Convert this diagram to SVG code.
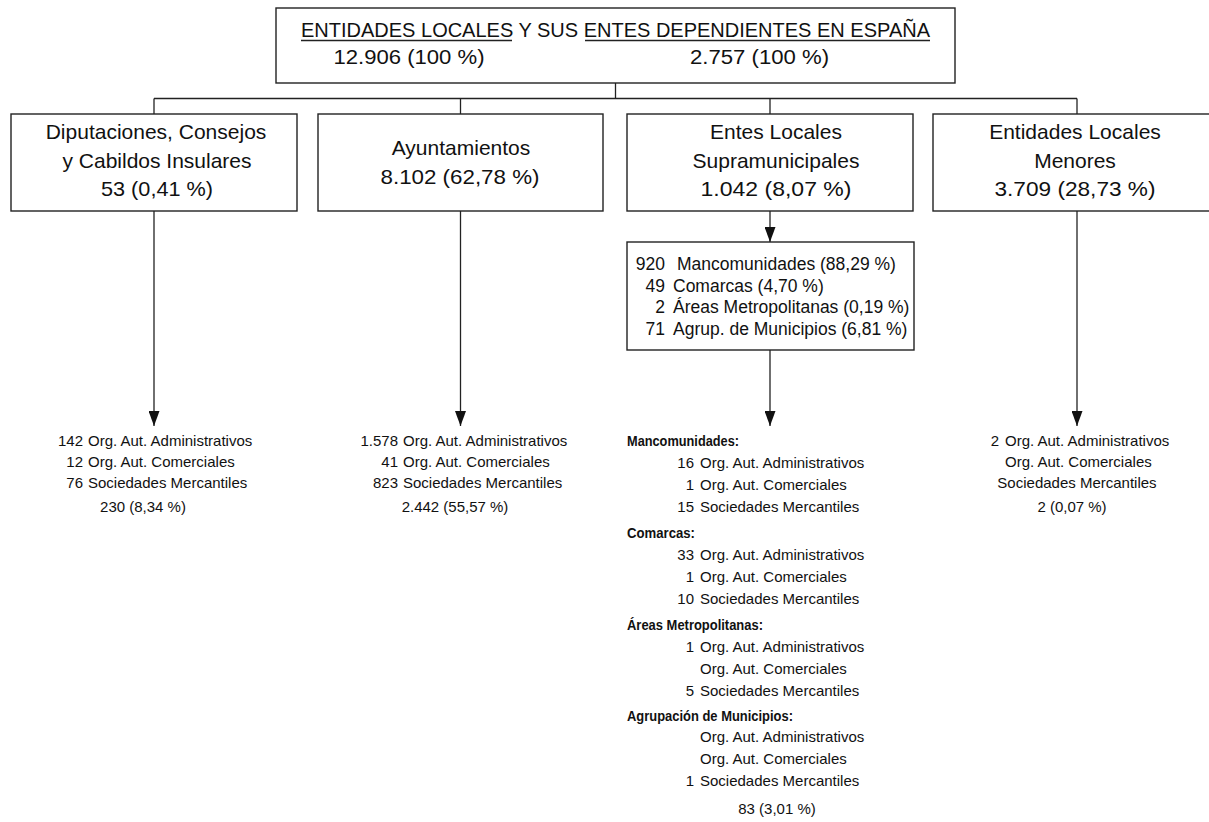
<svg xmlns="http://www.w3.org/2000/svg" width="1209" height="822" viewBox="0 0 1209 822">
<defs>
<style>
.box{fill:#fff;stroke:#222;stroke-width:1.4}
.ln{fill:none;stroke:#222;stroke-width:1.3}
.t{font-family:"Liberation Sans",Arial,sans-serif;fill:#111}
.big{font-size:21px}
.mid{font-size:17.5px}
.sm{font-size:15px}
.hd{font-size:15px;font-weight:bold}
.c{text-anchor:middle}
.r{text-anchor:end}
</style>
<marker id="ah" viewBox="0 0 15 11" refX="15" refY="5.5" markerWidth="15" markerHeight="11" markerUnits="userSpaceOnUse" orient="auto">
<path d="M0,0 L15,5.5 L0,11 z" fill="#111"/>
</marker>
</defs>
<rect width="1209" height="822" fill="#fff"/>

<g id="connectors">
<line class="ln" x1="615.5" y1="83" x2="615.5" y2="98.5"/>
<line class="ln" x1="154" y1="98.5" x2="1077" y2="98.5"/>
<line class="ln" x1="154" y1="98.5" x2="154" y2="114"/>
<line class="ln" x1="460.5" y1="98.5" x2="460.5" y2="114"/>
<line class="ln" x1="770" y1="98.5" x2="770" y2="114"/>
<line class="ln" x1="1077" y1="98.5" x2="1077" y2="114"/>
<line class="ln" x1="154" y1="211" x2="154" y2="426" marker-end="url(#ah)"/>
<line class="ln" x1="460.5" y1="211" x2="460.5" y2="426" marker-end="url(#ah)"/>
<line class="ln" x1="770" y1="211" x2="770" y2="242" marker-end="url(#ah)"/>
<line class="ln" x1="770" y1="350" x2="770" y2="426" marker-end="url(#ah)"/>
<line class="ln" x1="1077" y1="211" x2="1077" y2="426" marker-end="url(#ah)"/>
</g>

<g id="root">
<rect class="box" x="276" y="8" width="679" height="75"/>
<text class="t big" x="301" y="37" textLength="629" lengthAdjust="spacingAndGlyphs">ENTIDADES LOCALES Y SUS ENTES DEPENDIENTES EN ESPAÑA</text>
<line class="ln" x1="301" y1="40.5" x2="512" y2="40.5"/>
<line class="ln" x1="585" y1="40.5" x2="930" y2="40.5"/>
<text class="t" font-size="20" x="333.5" y="64" textLength="151" lengthAdjust="spacingAndGlyphs">12.906 (100 %)</text>
<text class="t" font-size="20" x="690" y="64" textLength="139" lengthAdjust="spacingAndGlyphs">2.757 (100 %)</text>
</g>

<g id="diputaciones">
<rect class="box" x="11" y="114" width="286" height="97"/>
<text class="t big c" x="156" y="139">Diputaciones, Consejos</text>
<text class="t big c" x="157" y="167.5">y Cabildos Insulares</text>
<text class="t big c" x="157" y="196" textLength="112" lengthAdjust="spacingAndGlyphs">53 (0,41 %)</text>
</g>

<g id="ayuntamientos">
<rect class="box" x="318" y="114" width="285" height="97"/>
<text class="t big c" x="461" y="155">Ayuntamientos</text>
<text class="t big c" x="460" y="183.5" textLength="159" lengthAdjust="spacingAndGlyphs">8.102 (62,78 %)</text>
</g>

<g id="supramunicipales">
<rect class="box" x="627" y="114" width="286" height="97"/>
<text class="t big c" x="776" y="139">Entes Locales</text>
<text class="t big c" x="776" y="167.5">Supramunicipales</text>
<text class="t big c" x="776" y="196" textLength="151" lengthAdjust="spacingAndGlyphs">1.042 (8,07 %)</text>
</g>

<g id="menores">
<rect class="box" x="933" y="114" width="290" height="97"/>
<text class="t big c" x="1075" y="139">Entidades Locales</text>
<text class="t big c" x="1075" y="167.5">Menores</text>
<text class="t big c" x="1075" y="196" textLength="161" lengthAdjust="spacingAndGlyphs">3.709 (28,73 %)</text>
</g>

<g id="desglose-supramunicipales">
<rect class="box" x="627" y="242" width="287" height="108"/>
<text class="t mid r" x="665" y="270">920</text>
<text class="t mid" x="677" y="270">Mancomunidades (88,29 %)</text>
<text class="t mid r" x="665" y="291.5">49</text>
<text class="t mid" x="673" y="291.5">Comarcas (4,70 %)</text>
<text class="t mid r" x="665" y="313">2</text>
<text class="t mid" x="673" y="313">Áreas Metropolitanas (0,19 %)</text>
<text class="t mid r" x="665" y="334.5">71</text>
<text class="t mid" x="673" y="334.5">Agrup. de Municipios (6,81 %)</text>
</g>

<g id="entes-diputaciones">
<text class="t sm r" x="83" y="446">142</text>
<text class="t sm" x="88" y="446">Org. Aut. Administrativos</text>
<text class="t sm r" x="83" y="467">12</text>
<text class="t sm" x="88" y="467">Org. Aut. Comerciales</text>
<text class="t sm r" x="83" y="488">76</text>
<text class="t sm" x="88" y="488">Sociedades Mercantiles</text>
<text class="t sm c" x="143" y="512">230 (8,34 %)</text>
</g>

<g id="entes-ayuntamientos">
<text class="t sm r" x="398" y="446">1.578</text>
<text class="t sm" x="403" y="446">Org. Aut. Administrativos</text>
<text class="t sm r" x="398" y="467">41</text>
<text class="t sm" x="403" y="467">Org. Aut. Comerciales</text>
<text class="t sm r" x="398" y="488">823</text>
<text class="t sm" x="403" y="488">Sociedades Mercantiles</text>
<text class="t sm c" x="455" y="512">2.442 (55,57 %)</text>
</g>

<g id="entes-supramunicipales">
<text class="t hd" x="627" y="446" textLength="112" lengthAdjust="spacingAndGlyphs">Mancomunidades:</text>
<text class="t sm r" x="694" y="468">16</text>
<text class="t sm" x="700" y="468">Org. Aut. Administrativos</text>
<text class="t sm r" x="694" y="490">1</text>
<text class="t sm" x="700" y="490">Org. Aut. Comerciales</text>
<text class="t sm r" x="694" y="512">15</text>
<text class="t sm" x="700" y="512">Sociedades Mercantiles</text>
<text class="t hd" x="627" y="538" textLength="68" lengthAdjust="spacingAndGlyphs">Comarcas:</text>
<text class="t sm r" x="694" y="560">33</text>
<text class="t sm" x="700" y="560">Org. Aut. Administrativos</text>
<text class="t sm r" x="694" y="582">1</text>
<text class="t sm" x="700" y="582">Org. Aut. Comerciales</text>
<text class="t sm r" x="694" y="604">10</text>
<text class="t sm" x="700" y="604">Sociedades Mercantiles</text>
<text class="t hd" x="627" y="629.5" textLength="136" lengthAdjust="spacingAndGlyphs">Áreas Metropolitanas:</text>
<text class="t sm r" x="694" y="651.5">1</text>
<text class="t sm" x="700" y="651.5">Org. Aut. Administrativos</text>
<text class="t sm" x="700" y="673.5">Org. Aut. Comerciales</text>
<text class="t sm r" x="694" y="695.5">5</text>
<text class="t sm" x="700" y="695.5">Sociedades Mercantiles</text>
<text class="t hd" x="627" y="720.5" textLength="166" lengthAdjust="spacingAndGlyphs">Agrupación de Municipios:</text>
<text class="t sm" x="700" y="742">Org. Aut. Administrativos</text>
<text class="t sm" x="700" y="764">Org. Aut. Comerciales</text>
<text class="t sm r" x="694" y="786">1</text>
<text class="t sm" x="700" y="786">Sociedades Mercantiles</text>
<text class="t sm c" x="777" y="814">83 (3,01 %)</text>
</g>

<g id="entes-menores">
<text class="t sm r" x="999" y="446">2</text>
<text class="t sm" x="1005" y="446">Org. Aut. Administrativos</text>
<text class="t sm" x="1005" y="467">Org. Aut. Comerciales</text>
<text class="t sm c" x="1077" y="488">Sociedades Mercantiles</text>
<text class="t sm c" x="1072" y="512">2 (0,07 %)</text>
</g>
</svg>
